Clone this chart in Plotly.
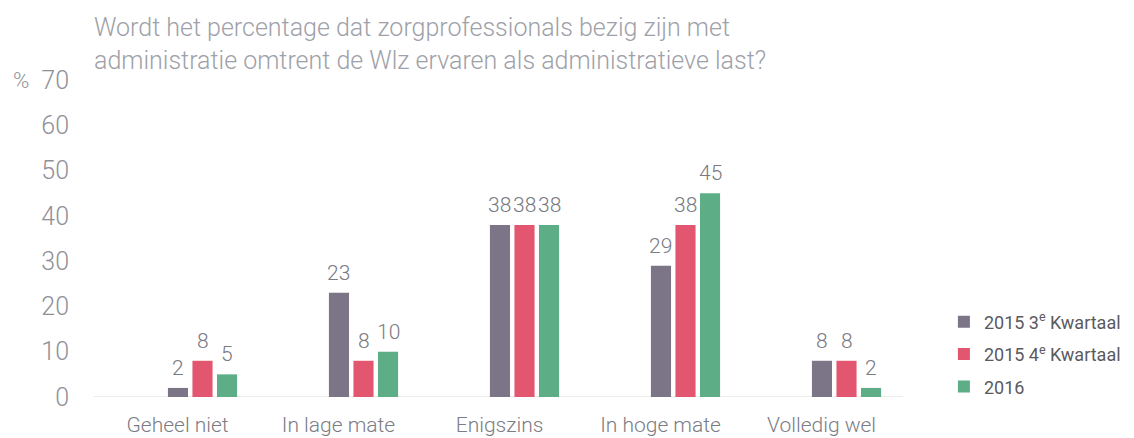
import plotly.graph_objects as go

categories = ["Geheel niet", "In lage mate", "Enigszins", "In hoge mate", "Volledig wel"]
series_names = ["2015 3<sup>e</sup> Kwartaal", "2015 4<sup>e</sup> Kwartaal", "2016"]
values_2015_q3 = [2, 23, 38, 29, 8]
values_2015_q4 = [8, 8, 38, 38, 8]
values_2016 = [5, 10, 38, 45, 2]
y_ticks = [0, 10, 20, 30, 40, 50, 60, 70]
colors = ["#7c7588", "#e2566f", "#5dad86"]
title_text = ("Wordt het percentage dat zorgprofessionals bezig zijn met<br>"
              "administratie omtrent de Wlz ervaren als administratieve last?")

FONT = "Roboto"
BARGAP = 0.543
L, R, T, B, W, H = 122, 207, 80, 41, 1134, 438
plot_w = W - L - R
slot_px = plot_w / len(categories) * (1 - BARGAP) / 3

fig = go.Figure()
all_series = [values_2015_q3, values_2015_q4, values_2016]
for i, (name, vals, col) in enumerate(zip(series_names, all_series, colors)):
    fig.add_trace(go.Bar(
        x=categories, y=vals, name=name, legendgroup=name,
        marker=dict(color=col, line=dict(width=0)),
        hoverinfo="x+y",
    ))
    for cat, v in zip(categories, vals):
        fig.add_annotation(x=cat, y=v, xref="x", yref="y", showarrow=False,
                           text=str(v), xshift=(i - 1) * slot_px, yshift=20,
                           xanchor="center", yanchor="middle",
                           font=dict(family=FONT, size=21, color="#7a7a82", weight=300))

fig.update_layout(
    width=W, height=H,
    margin=dict(l=L, r=R, t=T, b=B, autoexpand=False),
    paper_bgcolor="white", plot_bgcolor="white",
    barmode="group", bargap=BARGAP, bargroupgap=0.18,
    font=dict(family=FONT, color="#7a7a82"),
    showlegend=True,
    legend=dict(x=1.021, y=0.295, xanchor="left", yanchor="top",
                font=dict(family=FONT, size=18, color="#5a5a60"),
                bgcolor="rgba(0,0,0,0)", tracegroupgap=6),
    xaxis=dict(showgrid=False, showline=False, zeroline=False, ticks="",
               automargin=False,
               tickfont=dict(family=FONT, size=21, color="#7c7c84", weight=300),
               ticklabelshift=-25, ticklabelstandoff=13),
    yaxis=dict(range=[0, 70], tickvals=y_ticks, showgrid=False, showline=False,
               zeroline=False, ticks="", automargin=False,
               tickfont=dict(family=FONT, size=25, color="#909098", weight=300),
               ticklabelstandoff=52),
)

fig.add_shape(type="line", xref="paper", yref="y", x0=-0.035, x1=0.97, y0=0, y1=0,
              line=dict(color="#e6e6e6", width=1.5), layer="below")

fig.add_annotation(xref="paper", yref="paper", x=(92 - L) / plot_w, y=1 + (T - 11) / (H - T - B),
                   xanchor="left", yanchor="top", align="left", showarrow=False,
                   text=title_text,
                   font=dict(family=FONT, size=25, color="#9ea1a9", weight=300))
fig.add_annotation(xref="paper", yref="y", x=(21 - L) / plot_w, y=70,
                   xanchor="center", yanchor="middle", showarrow=False,
                   text="%", font=dict(family=FONT, size=22, color="#909098", weight=300))

fig.write_html("out.html", config={"displayModeBar": False},
               post_script="document.body.style.margin='0';")
